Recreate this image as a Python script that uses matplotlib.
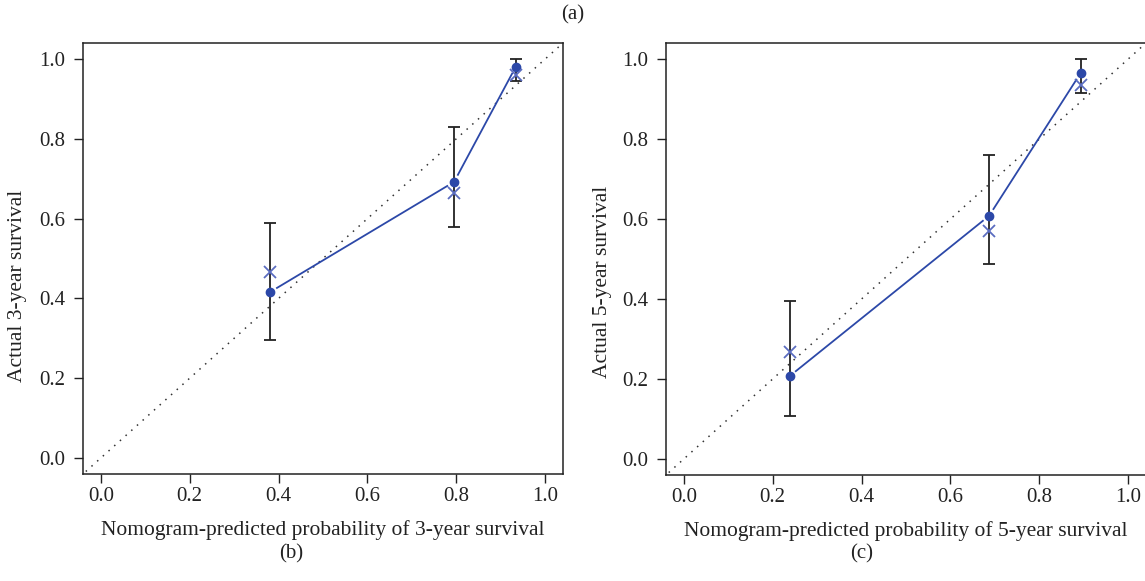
import numpy as np
import matplotlib
matplotlib.use("Agg")
import matplotlib.pyplot as plt

plt.rcParams["font.family"] = ["Liberation Serif", "DejaVu Serif"]
plt.rcParams["font.size"] = 15

# panel (b): 3-year calibration
pred_3y = [0.381, 0.795, 0.934]
obs_3y = [0.416, 0.692, 0.981]
lo_3y = [0.297, 0.580, 0.946]
hi_3y = [0.588, 0.830, 1.000]
corr_3y = [0.465, 0.664, 0.960]

# panel (c): 5-year calibration
pred_5y = [0.238, 0.687, 0.893]
obs_5y = [0.207, 0.608, 0.965]
lo_5y = [0.108, 0.488, 0.915]
hi_5y = [0.396, 0.760, 1.000]
corr_5y = [0.267, 0.571, 0.935]

ticks = [0.0, 0.2, 0.4, 0.6, 0.8, 1.0]
tick_labels = ["0.0", "0.2", "0.4", "0.6", "0.8", "1.0"]

BLUE = "#2c48a8"
CROSS = "#5a6cc0"
INK = "#222222"

W, H = 1145, 581
fig = plt.figure(figsize=(W / 100, H / 100), dpi=100)

ax_b = fig.add_axes([83 / W, (H - 474) / H, (563 - 83) / W, (474 - 43) / H])
ax_c = fig.add_axes([666 / W, (H - 475) / H, (1146 - 666) / W, (475 - 43) / H])


def draw_panel(ax, pred, obs, lo, hi, corr, years, ylab_pos):
    ax.set_xlim(-0.04, 1.04)
    ax.set_ylim(-0.04, 1.04)
    ax.plot([-0.2, 1.2], [-0.2, 1.2], color="#333333", lw=1.1,
            linestyle=(0, (1, 4)), zorder=1)

    # connecting line with gaps around points (R type="b")
    fig.canvas.draw()
    pts = ax.transData.transform(np.column_stack([pred, obs]))
    gap = 8
    inv = ax.transData.inverted()
    for p0, p1 in zip(pts[:-1], pts[1:]):
        d = p1 - p0
        u = d / np.hypot(*d)
        a = inv.transform(p0 + u * gap)
        b = inv.transform(p1 - u * gap)
        ax.plot([a[0], b[0]], [a[1], b[1]], color=BLUE, lw=1.3, zorder=2)

    yerr = [np.array(obs) - np.array(lo), np.array(hi) - np.array(obs)]
    ax.errorbar(pred, obs, yerr=yerr, fmt="none", ecolor=INK,
                elinewidth=1.3, capsize=4.5, capthick=1.3, zorder=3)
    ax.plot(pred, obs, "o", color=BLUE, markersize=6, zorder=4)
    ax.plot(pred, corr, "x", color=CROSS, markersize=8.5, mew=1.3, zorder=4)

    ax.set_xticks(ticks)
    ax.set_xticklabels(tick_labels)
    ax.set_yticks(ticks)
    ax.set_yticklabels(tick_labels)
    ax.tick_params(direction="out", length=6.5, width=1.0, colors=INK,
                   labelsize=15, labelcolor=INK)
    ax.tick_params(axis="y", pad=6)
    ax.tick_params(axis="x", pad=3)
    for s in ax.spines.values():
        s.set_linewidth(1.1)
        s.set_color(INK)
    ax.set_xlabel(f"Nomogram-predicted probability of {years}-year survival",
                  fontsize=15.5, color=INK, labelpad=10)
    ax.set_ylabel(f"Actual {years}-year survival", fontsize=15.5, color=INK)
    ax.yaxis.set_label_coords(*ylab_pos)


draw_panel(ax_b, pred_3y, obs_3y, lo_3y, hi_3y, corr_3y, 3, (-0.117, 0.436))
draw_panel(ax_c, pred_5y, obs_5y, lo_5y, hi_5y, corr_5y, 5, (-0.112, 0.447))

fig.text(573 / W, 1 - 15 / H, "(a)", ha="center", va="center", fontsize=15, color=INK)
fig.text(291 / W, 1 - 554 / H, "(b)", ha="center", va="center", fontsize=15, color=INK)
fig.text(862 / W, 1 - 554 / H, "(c)", ha="center", va="center", fontsize=15, color=INK)

fig.savefig("out.png", dpi=100)
